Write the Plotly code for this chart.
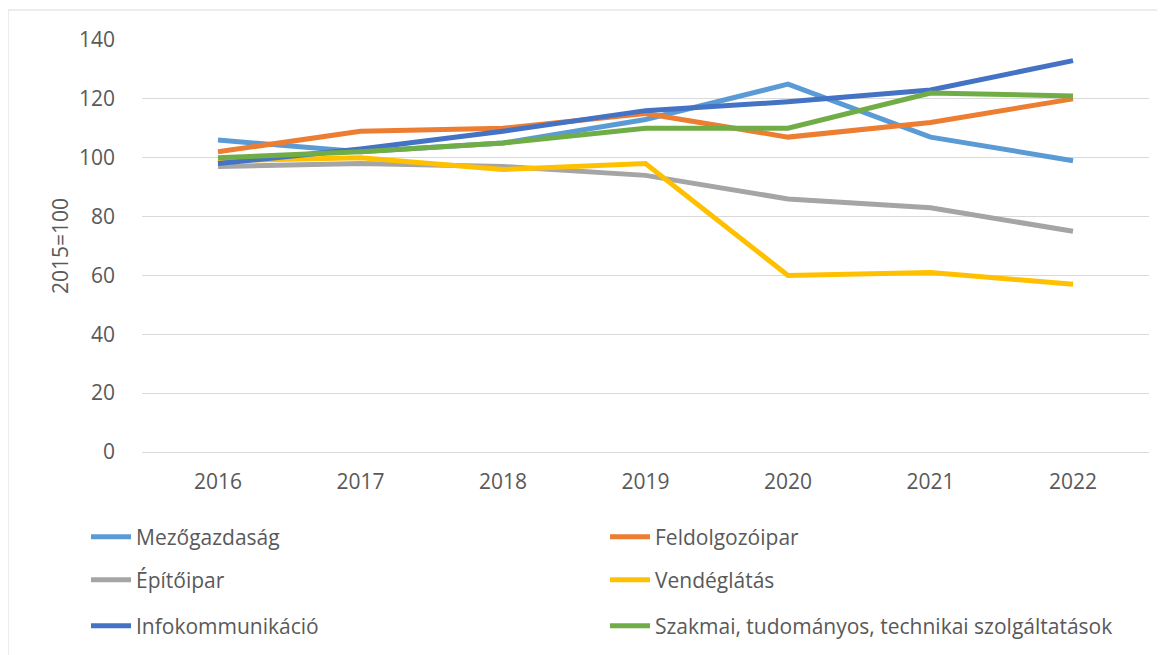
import plotly.graph_objects as go

years = ["2016", "2017", "2018", "2019", "2020", "2021", "2022"]

mezogazdasag = [106, 102, 105, 113, 125, 107, 99]
feldolgozoipar = [102, 109, 110, 115, 107, 112, 120]
epitoipar = [97, 98, 97, 94, 86, 83, 75]
vendeglatas = [99, 100, 96, 98, 60, 61, 57]
infokommunikacio = [98, 103, 109, 116, 119, 123, 133]
szakmai = [100, 102, 105, 110, 110, 122, 121]

series = [
    ("Mezőgazdaság", mezogazdasag, "#5B9BD5", "legend"),
    ("Feldolgozóipar", feldolgozoipar, "#ED7D31", "legend"),
    ("Építőipar", epitoipar, "#A5A5A5", "legend2"),
    ("Vendéglátás", vendeglatas, "#FFC000", "legend2"),
    ("Infokommunikáció", infokommunikacio, "#4472C4", "legend3"),
    ("Szakmai, tudományos, technikai szolgáltatások", szakmai, "#70AD47", "legend3"),
]

FONT = "Open Sans, Liberation Sans, sans-serif"
TXT = "#595959"
FS = 21

fig = go.Figure()
for name, vals, color, lg in series:
    fig.add_trace(go.Scatter(
        x=years, y=vals, name=name, mode="lines",
        line=dict(color=color, width=5),
        legend=lg,
    ))

# page is offset by 8px body margin; all coords below are figure coords
OFF = 8
W, H = 1165, 655
L, T = 142 - OFF, 40 - OFF
R = W - (1149 - OFF)
B = H - (452 - OFF)
pw = W - L - R
ph = H - T - B

def px_x(x):
    return (x - OFF - L) / pw

def px_y(y):
    return (H - B - (y - OFF)) / ph

def legend_cfg(row_y):
    return dict(
        orientation="h", x=px_x(86), xanchor="left",
        y=px_y(row_y), yanchor="middle",
        entrywidth=464, entrywidthmode="pixels",
        font=dict(family=FONT, size=FS, color=TXT),
        bgcolor="rgba(0,0,0,0)", itemwidth=40,
    )

fig.update_layout(
    width=W, height=H,
    margin=dict(l=L, r=R, t=T, b=B),
    paper_bgcolor="white", plot_bgcolor="white",
    font=dict(family=FONT, size=FS, color=TXT),
    legend=legend_cfg(537),
    legend2=legend_cfg(580),
    legend3=legend_cfg(626),
    xaxis=dict(
        type="category", range=[-0.533, 6.533],
        showgrid=False, showline=False, zeroline=False,
        ticks="", ticklabelstandoff=15,
        tickfont=dict(family=FONT, size=FS, color=TXT),
    ),
    yaxis=dict(
        range=[0, 140], dtick=20,
        showgrid=True, gridcolor="#D9D9D9", gridwidth=1,
        zeroline=True, zerolinecolor="#D9D9D9", zerolinewidth=1,
        showline=False, ticks="", ticklabelstandoff=26,
        tickfont=dict(family=FONT, size=FS, color=TXT),
        title=dict(text="2015=100", standoff=4,
                   font=dict(family=FONT, size=FS, color=TXT)),
    ),
    shapes=[
        dict(type="line", xref="paper", yref="paper",
             x0=px_x(8), x1=px_x(8), y0=px_y(10), y1=px_y(670),
             line=dict(color="#D9D9D9", width=1)),
        dict(type="line", xref="paper", yref="paper",
             x0=px_x(8), x1=px_x(1175), y0=px_y(10), y1=px_y(10),
             line=dict(color="#D9D9D9", width=1)),
    ],
)

fig.write_html("out.html")
